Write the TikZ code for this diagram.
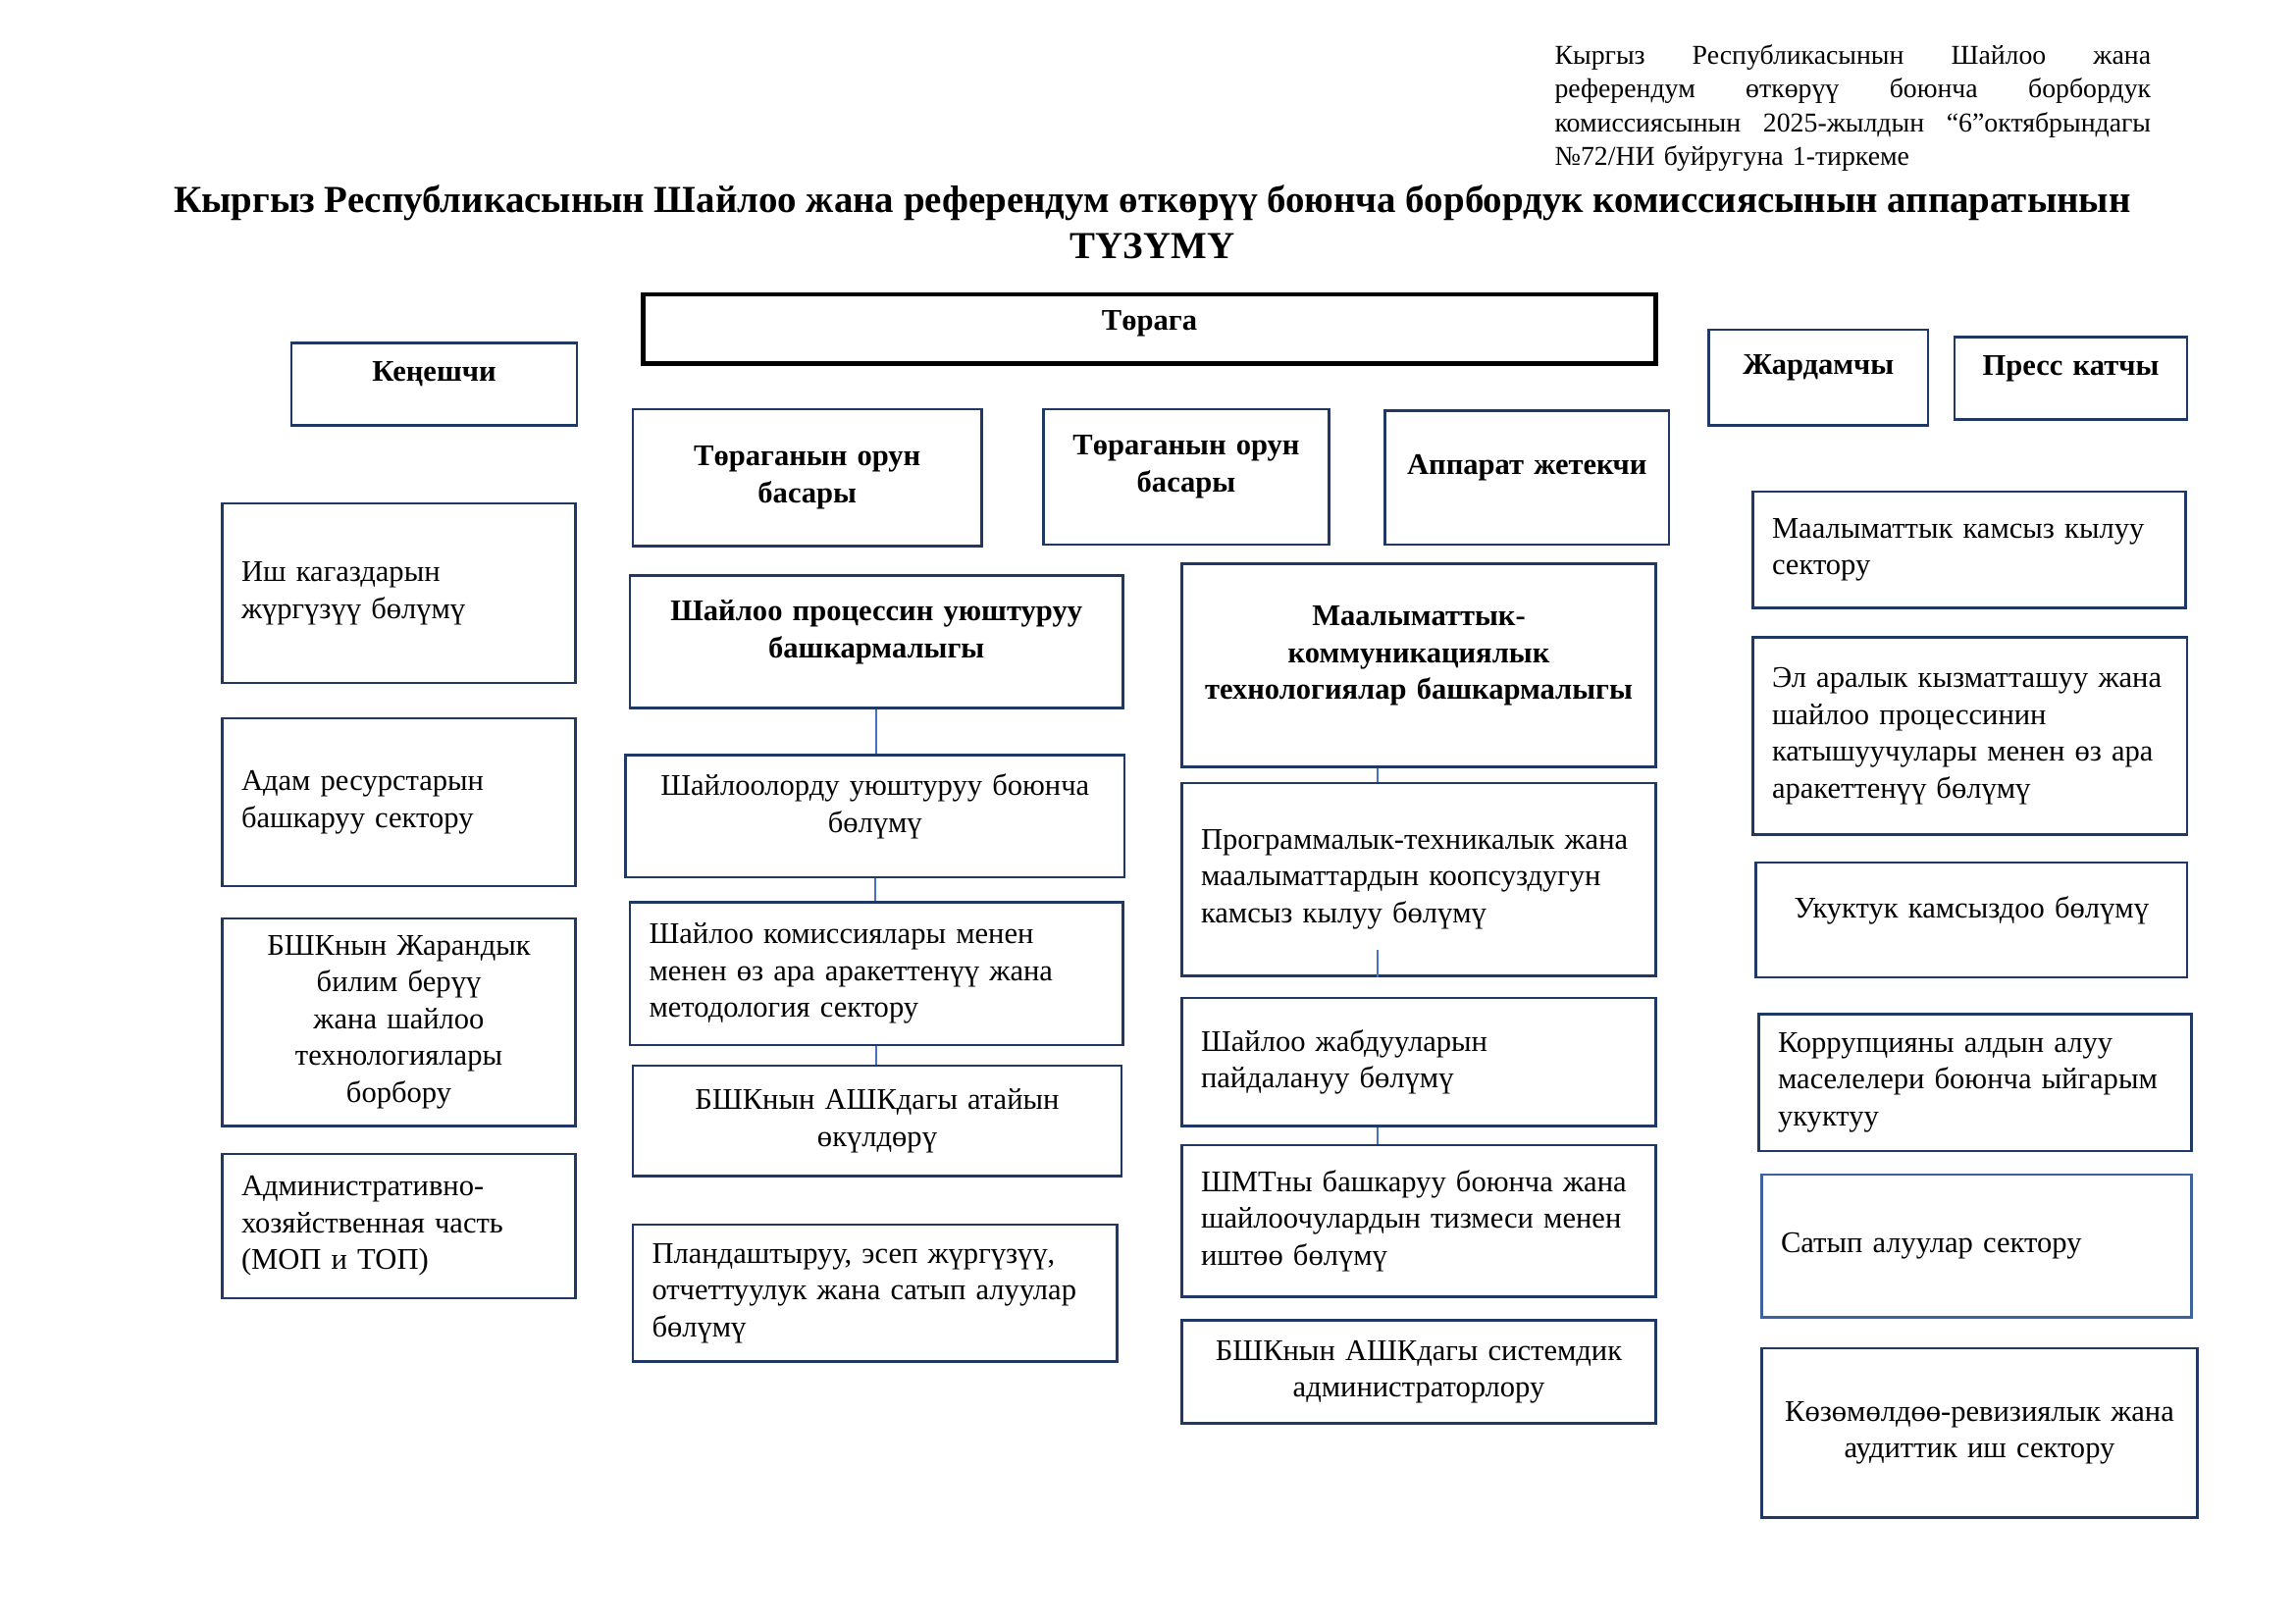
\documentclass[tikz,border=0pt]{standalone}
\usepackage{fontspec}
\setmainfont{Liberation Serif}
\usetikzlibrary{calc}
\definecolor{navy}{RGB}{31,56,100}
\definecolor{lblue}{RGB}{68,114,196}
\definecolor{mblue}{RGB}{62,98,160}
\tikzset{
  box/.style={draw=navy, line width=1pt, inner sep=0pt, font=\fontsize{11}{13.5}\selectfont, align=left},
  bbold/.style={font=\fontsize{11}{13.5}\selectfont\bfseries, align=center},
  ctr/.style={align=center},
  lift/.style={execute at end node={\par\kern#1}},
  conn/.style={draw=lblue, line width=0.6pt},
}
\newcommand{\orgbox}[7][]{\node[box,minimum width={(#5-#3)*0.54pt},minimum height={(#6-#4)*0.54pt},text width={(#5-#3-26)*0.54pt},#1] (#2) at ({(#3+#5)/2},{(#4+#6)/2}) {#7};}
\begin{document}
\begin{tikzpicture}[x=0.54pt,y=-0.54pt]
\useasboundingbox[fill=white] (0,0) rectangle (1559.33,1102.67);
% note
\node[font=\fontsize{10}{12.4}\selectfont, text width={405*0.54pt}, align=left, anchor=north west, inner sep=0pt] (note) at (1056,30)
 {Кыргыз\hfill Республикасынын\hfill Шайлоо\hfill жана\\
  референдум\hfill өткөрүү\hfill боюнча\hfill борбордук\\
  комиссиясынын\hfill 2025-жылдын\hfill “6”октябрындагы\\
  №72/НИ буйругуна 1-тиркеме};
% title
\node[font=\fontsize{14}{17}\selectfont\bfseries, align=center, inner sep=0pt] (title) at (783,151)
 {Кыргыз Республикасынын Шайлоо жана референдум өткөрүү боюнча борбордук комиссиясынын аппаратынын\\ТҮЗҮМҮ};
% top row
\orgbox[bbold,draw=black,line width=1.5pt,lift=3.8pt]{torag}{437}{200}{1125}{247}{Төрага}
\orgbox[bbold,lift=7.5pt]{kenesh}{198}{233}{392}{289}{Кеңешчи}
\orgbox[bbold]{orun1}{430}{278}{667}{371}{Төраганын орун\\басары}
\orgbox[bbold,lift=7.5pt]{orun2}{709}{278}{903}{370}{Төраганын орун\\басары}
\orgbox[bbold,lift=7pt]{apparat}{941}{279}{1134}{370}{Аппарат жетекчи}
\orgbox[bbold,lift=7pt]{jardam}{1161}{224}{1310}{289}{Жардамчы}
\orgbox[bbold,lift=7pt]{press}{1328}{229}{1486}{285}{Пресс катчы}
% left column
\orgbox{ish}{151}{342}{391}{464}{Иш кагаздарын\\жүргүзүү бөлүмү}
\orgbox{adam}{151}{488}{391}{602}{Адам ресурстарын\\башкаруу сектору}
\orgbox[ctr]{jarand}{151}{624}{391}{765}{БШКнын Жарандык\\билим берүү\\жана шайлоо\\технологиялары\\борбору}
\orgbox{admin}{151}{784}{391}{882}{Административно-\\хозяйственная часть\\(МОП и ТОП)}
% middle-left column
\orgbox[bbold,lift=7pt]{shpr}{428}{391}{763}{481}{Шайлоо процессин уюштуруу\\башкармалыгы}
\orgbox[ctr,lift=7pt]{shuyu}{425}{513}{764}{596}{Шайлоолорду уюштуруу боюнча\\бөлүмү}
\orgbox{shkom}{428}{613}{763}{710}{Шайлоо комиссиялары менен\\менен өз ара аракеттенүү жана\\методология сектору}
\orgbox[ctr]{atay}{430}{724}{762}{799}{БШКнын АШКдагы атайын\\өкүлдөрү}
\orgbox{plan}{430}{832}{759}{925}{Пландаштыруу, эсеп жүргүзүү,\\отчеттуулук жана сатып алуулар\\бөлүмү}
% middle-right column
\orgbox[bbold,lift=7pt]{mkt}{803}{383}{1125}{521}{Маалыматтык-\\коммуникациялык\\технологиялар башкармалыгы}
\orgbox{prog}{803}{532}{1125}{663}{Программалык-техникалык жана\\маалыматтардын коопсуздугун\\камсыз кылуу бөлүмү}
\orgbox{jabd}{803}{678}{1125}{765}{Шайлоо жабдууларын\\пайдалануу бөлүмү}
\orgbox{shmt}{803}{778}{1125}{881}{ШМТны башкаруу боюнча жана\\шайлоочулардын тизмеси менен\\иштөө бөлүмү}
\orgbox[ctr]{sysad}{803}{897}{1125}{967}{БШКнын АШКдагы системдик\\администраторлору}
% right column
\orgbox{maal}{1191}{334}{1485}{413}{Маалыматтык камсыз кылуу\\сектору}
\orgbox{el}{1191}{433}{1486}{567}{Эл аралык кызматташуу жана\\шайлоо процессинин\\катышуучулары менен өз ара\\аракеттенүү бөлүмү}
\orgbox[ctr,lift=7pt]{ukuk}{1193}{586}{1486}{664}{Укуктук камсыздоо бөлүмү}
\orgbox{korr}{1195}{689}{1489}{782}{Коррупцияны алдын алуу\\маселелери боюнча ыйгарым\\укуктуу}
\orgbox[draw=mblue]{satyp}{1197}{798}{1489}{895}{Сатып алуулар сектору}
\orgbox[ctr]{koz}{1197}{916}{1493}{1031}{Көзөмөлдөө-ревизиялык жана\\аудиттик иш сектору}
% connectors
\draw[conn] (shpr.south) -- (shpr.south |- shuyu.north);
\draw[conn] (shuyu.south) -- (shuyu.south |- shkom.north);
\draw[conn] (shkom.south) -- (shkom.south |- atay.north);
\coordinate (cx) at (936,0);
\coordinate (pin) at (936,645);
\draw[conn] (mkt.south -| cx) -- (prog.north -| cx);
\draw[conn] (pin) -- (prog.south -| cx);
\draw[conn] (jabd.south -| cx) -- (shmt.north -| cx);
\end{tikzpicture}
\end{document}
